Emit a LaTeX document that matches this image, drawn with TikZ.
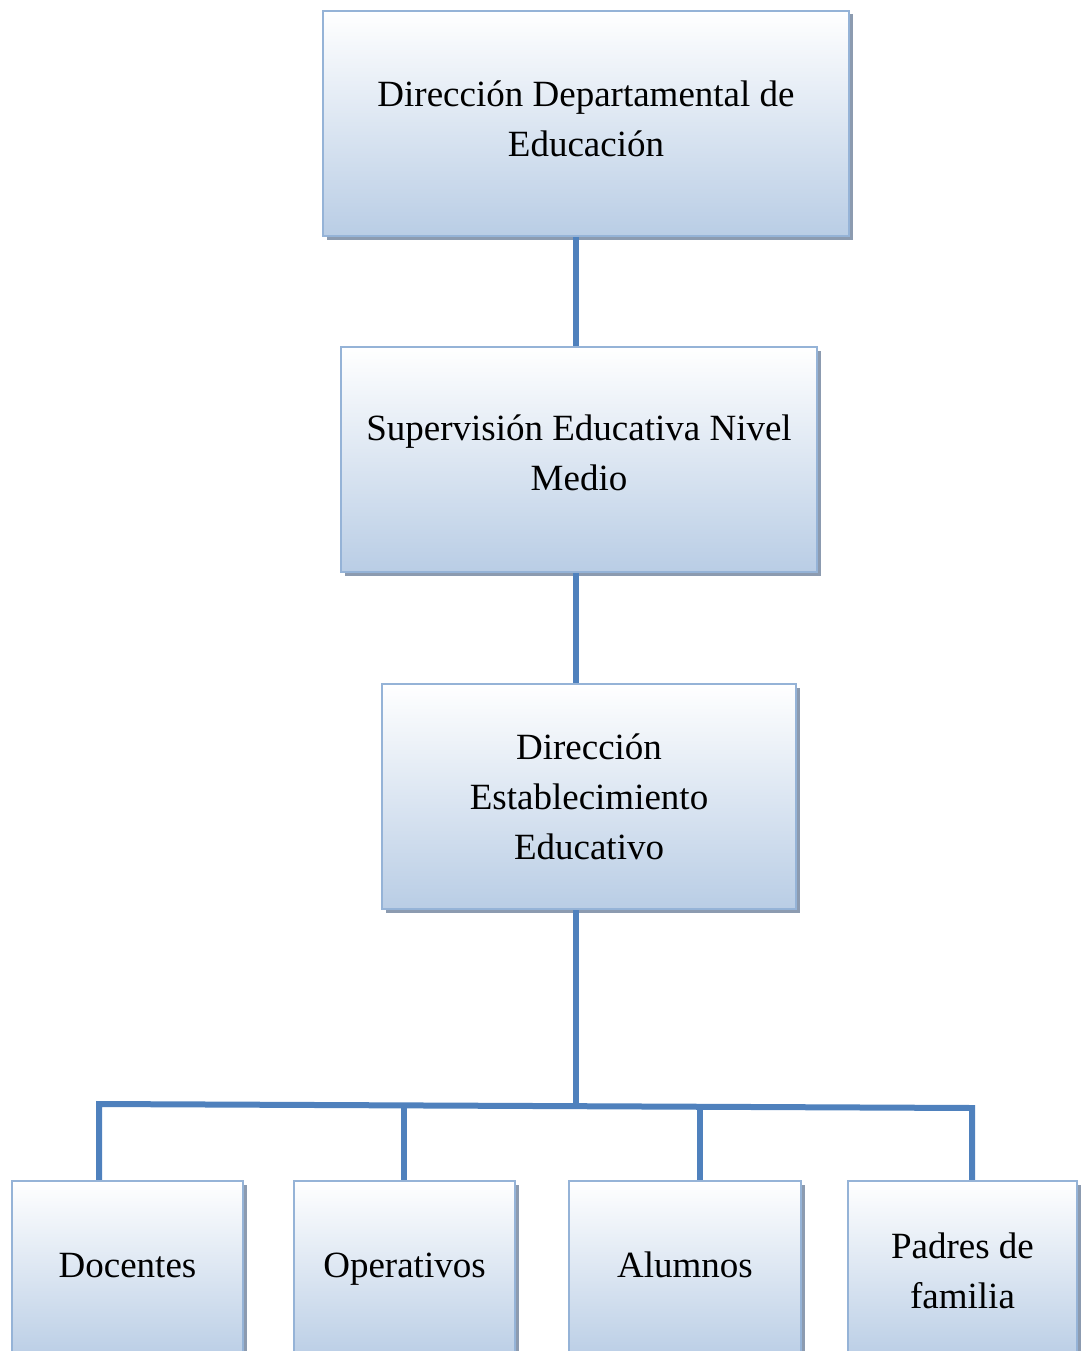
\documentclass[tikz,border=0pt]{standalone}
\usepackage{fontspec}
\setmainfont{Liberation Serif}
\usetikzlibrary{shadows,calc}
\definecolor{boxline}{HTML}{95B3D7}
\definecolor{boxbot}{HTML}{B9CDE5}
\definecolor{shade}{HTML}{8C9BB0}
\definecolor{conncol}{HTML}{4F81BD}
\tikzset{
  orgbox/.style={rectangle, draw=boxline, line width=2.2pt, top color=white, bottom color=boxbot,
    inner sep=0pt, align=center, font=\fontsize{37}{50}\selectfont,
    general shadow={shadow xshift=3.5pt, shadow yshift=-3.5pt, fill=shade}},
  conn/.style={draw=conncol, line width=6pt, line join=miter, line cap=butt}
}
\begin{document}
\begin{tikzpicture}[x=1pt,y=-1pt]
\useasboundingbox (0,0) rectangle (1083,1351);
\node[orgbox, minimum width=526pt, minimum height=225pt] (b1) at (586,123.5) {Dirección Departamental de\\Educación\\[-40pt]};
\node[orgbox, minimum width=476pt, minimum height=225pt] (b2) at (579,459.5) {Supervisión Educativa Nivel\\Medio\\[-36pt]};
\node[orgbox, minimum width=414pt, minimum height=225pt] (b3) at (589,796.5) {Dirección\\Establecimiento\\Educativo};
\node[orgbox, minimum width=231pt, minimum height=180pt] (d1) at (127.5,1271) {Docentes\\[-38pt]};
\node[orgbox, minimum width=221pt, minimum height=180pt] (d2) at (404.5,1271) {Operativos\\[-38pt]};
\node[orgbox, minimum width=232pt, minimum height=180pt] (d3) at (685,1271) {Alumnos\\[-38pt]};
\node[orgbox, minimum width=229pt, minimum height=180pt] (d4) at (962.5,1271) {Padres de\\familia};
\coordinate (spine) at (576,0);
\coordinate (barL) at (99,1104);
\coordinate (barR) at (972,1108);
\coordinate (barM) at (576,1106);
\coordinate (bar2) at (404,1105.5);
\coordinate (bar3) at (700,1107);
\draw[conn] (spine |- b1.south) -- (spine |- b2.north);
\draw[conn] (spine |- b2.south) -- (spine |- b3.north);
\draw[conn] (spine |- b3.south) -- (barM);
\draw[conn] (barL |- d1.north) -- (barL) -- (barR) -- (barR |- d4.north);
\draw[conn] (bar2) -- (bar2 |- d2.north);
\draw[conn] (bar3) -- (bar3 |- d3.north);
\end{tikzpicture}
\end{document}
